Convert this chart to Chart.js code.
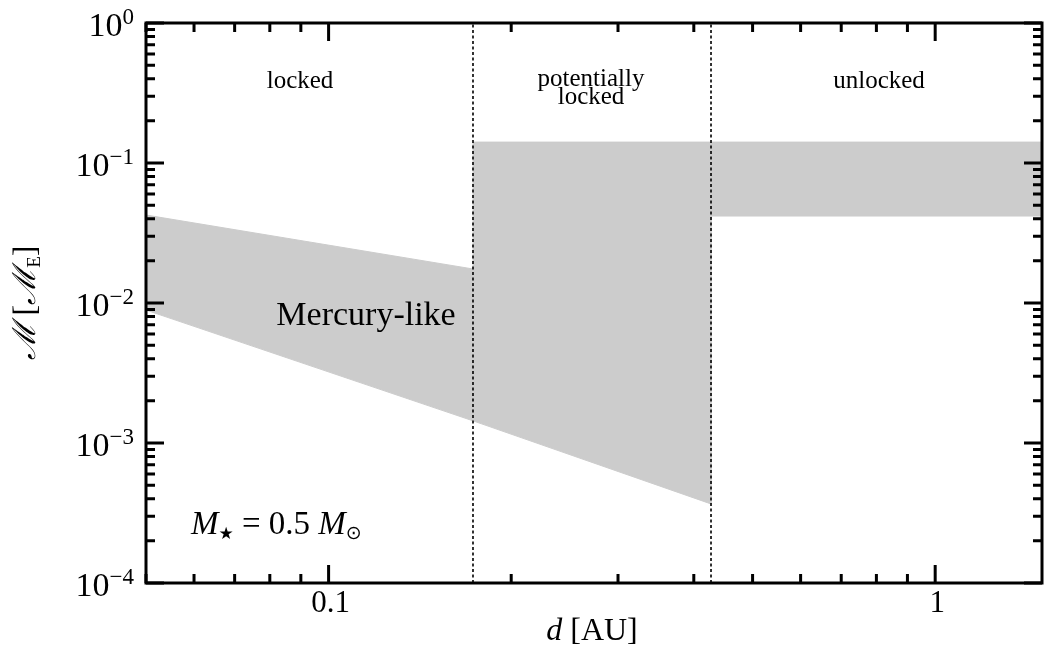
<!DOCTYPE html>
<html>
<head>
<meta charset="utf-8">
<script src="https://cdn.jsdelivr.net/npm/chart.js@4.4.1/dist/chart.umd.min.js"></script>
<style>
  html, body { margin: 0; padding: 0; background: #fff; }
  #wrap { width: 1044px; height: 648px; }
</style>
</head>
<body>
<div id="wrap"><canvas id="tidal"></canvas></div>
<script>
const serif = '"Liberation Serif", "DejaVu Serif", serif';

// region limits in d [AU]
const dLocked = [0.05, 0.173];
const dPotential = [0.173, 0.427];
const dUnlocked = [0.427, 1.5];

// mass limits [Earth masses] at both ends of each region
const lockedUpper = [0.0425, 0.0175];
const lockedLower = [0.0089, 0.00144];
const potentialUpper = [0.141, 0.141];
const potentialLower = [0.00144, 0.000367];
const unlockedUpper = [0.141, 0.141];
const unlockedLower = [0.0418, 0.0418];

// dotted dividers between the regimes
const dividers = [0.173, 0.427];

// axis ticks
const xTicks = [0.1, 1];
const xTickLabels = ['0.1', '1'];
const yTicks = [1, 0.1, 0.01, 0.001, 0.0001];
const yTickExp = ['0', '−1', '−2', '−3', '−4'];

function band(d, up, lo) {
  return [
    { x: d[0], y: up[0] }, { x: d[1], y: up[1] },
    { x: d[1], y: lo[1] }, { x: d[0], y: lo[0] },
    { x: d[0], y: up[0] }
  ];
}

const grey = '#cccccc';
const fillSet = (pts) => ({
  data: pts, showLine: true, fill: 'shape', pointRadius: 0,
  backgroundColor: grey, borderColor: grey, borderWidth: 1, order: 2
});

const datasets = [
  fillSet(band(dLocked, lockedUpper, lockedLower)),
  fillSet(band(dPotential, potentialUpper, potentialLower)),
  fillSet(band(dUnlocked, unlockedUpper, unlockedLower))
];
dividers.forEach(d => {
  datasets.push({
    data: [{ x: d, y: 1e-4 }, { x: d, y: 1 }],
    showLine: true, fill: false, pointRadius: 0,
    borderColor: '#000', borderWidth: 1.6, borderDash: [3, 2.5], order: 1
  });
});

// text pieces: [text, font, vertical shift]
function runs(ctx, parts, x, y, align) {
  let w = 0;
  parts.forEach(p => { ctx.font = p[1]; w += ctx.measureText(p[0]).width; });
  let cx = align === 'center' ? x - w / 2 : align === 'right' ? x - w : x;
  ctx.textAlign = 'left';
  parts.forEach(p => {
    ctx.font = p[1];
    ctx.fillText(p[0], cx, y + (p[2] || 0));
    cx += ctx.measureText(p[0]).width;
  });
}

const frame = {
  id: 'frame',
  afterDraw(chart) {
    const { ctx, chartArea: a, scales: { x, y } } = chart;
    ctx.save();
    ctx.strokeStyle = '#000';
    ctx.fillStyle = '#000';
    ctx.lineWidth = 3;
    ctx.strokeRect(a.left, a.top, a.right - a.left, a.bottom - a.top);

    // inward ticks on all four sides
    ctx.beginPath();
    for (let e = -2; e <= 0; e++) {
      for (let m = 1; m <= 9; m++) {
        const v = m * Math.pow(10, e);
        if (v < 0.05 || v > 1.5) continue;
        const px = x.getPixelForValue(v);
        const len = m === 1 ? 18 : 9;
        ctx.moveTo(px, a.bottom); ctx.lineTo(px, a.bottom - len);
        ctx.moveTo(px, a.top); ctx.lineTo(px, a.top + len);
      }
    }
    for (let e = -4; e <= 0; e++) {
      for (let m = 1; m <= 9; m++) {
        const v = m * Math.pow(10, e);
        if (v > 1) continue;
        const py = y.getPixelForValue(v);
        const len = m === 1 ? 18 : 9;
        ctx.moveTo(a.left, py); ctx.lineTo(a.left + len, py);
        ctx.moveTo(a.right, py); ctx.lineTo(a.right - len, py);
      }
    }
    ctx.stroke();

    // tick labels
    ctx.textBaseline = 'alphabetic';
    yTicks.forEach((v, i) => {
      const py = y.getPixelForValue(v);
      runs(ctx, [['10', '34px ' + serif, 0], [yTickExp[i], '23px ' + serif, -12]], 134, py + 13, 'right');
    });
    xTicks.forEach((v, i) => {
      const px = x.getPixelForValue(v);
      runs(ctx, [[xTickLabels[i], '31px ' + serif, 0]], px + 2, 612, 'center');
    });

    // axis titles
    runs(ctx, [['d', 'italic 32px ' + serif, 0], [' [AU]', '32px ' + serif, 0]], 592, 640, 'center');
    ctx.save();
    ctx.translate(35, 303);
    ctx.rotate(-Math.PI / 2);
    runs(ctx, [['ℳ', 'italic 32px ' + serif, 0], [' [', '32px ' + serif, 0],
               ['ℳ', 'italic 32px ' + serif, 0], ['E', '19px ' + serif, 5], [']', '32px ' + serif, 0]], 0, 0, 'center');
    ctx.restore();

    // region labels
    runs(ctx, [['locked', '25px ' + serif, 0]], 300, 88, 'center');
    runs(ctx, [['potentially', '25px ' + serif, 0]], 591, 86, 'center');
    runs(ctx, [['locked', '25px ' + serif, 0]], 591, 104, 'center');
    runs(ctx, [['unlocked', '25px ' + serif, 0]], 879, 88, 'center');
    runs(ctx, [['Mercury-like', '34px ' + serif, 0]], 366, 325, 'center');
    runs(ctx, [['M', 'italic 33px ' + serif, 0], ['★', '17px "DejaVu Sans"', 5],
               [' = 0.5 ', '33px ' + serif, 0], ['M', 'italic 33px ' + serif, 0],
               ['⊙', '19px "DejaVu Sans"', 5]], 191, 534, 'left');
    ctx.restore();
  }
};

new Chart(document.getElementById('tidal'), {
  type: 'scatter',
  data: { datasets },
  options: {
    responsive: true,
    maintainAspectRatio: false,
    animation: false,
    layout: { padding: { top: 23, right: 2, left: 0, bottom: 0 } },
    plugins: { legend: { display: false }, tooltip: { enabled: false } },
    scales: {
      x: {
        type: 'logarithmic', min: 0.05, max: 1.5,
        afterBuildTicks: s => { s.ticks = xTicks.map(v => ({ value: v })); },
        afterFit: s => { s.height = 65; },
        grid: { display: false }, border: { display: false },
        ticks: { display: false }
      },
      y: {
        type: 'logarithmic', min: 1e-4, max: 1,
        afterBuildTicks: s => { s.ticks = yTicks.map(v => ({ value: v })); },
        afterFit: s => { s.width = 146; },
        grid: { display: false }, border: { display: false },
        ticks: { display: false }
      }
    }
  },
  plugins: [frame]
});
</script>
</body>
</html>
